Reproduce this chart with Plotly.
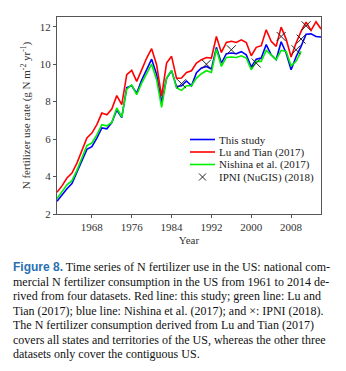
import plotly.graph_objects as go

years = list(range(1961, 2015))
this_study = [2.68, 3.03, 3.35, 3.62, 4.2, 4.85, 5.45, 5.6, 6.05, 6.6,
              6.55, 6.88, 7.55, 7.15, 8.75, 8.85, 8.45, 9.15, 9.75, 10.27,
              9.45, 7.95, 9.25, 9.65, 8.8, 8.85, 9.1, 8.85, 9.55, 9.8,
              9.88, 9.74, 10.9, 10.05, 10.56, 10.6, 10.56, 10.67, 10.5, 9.85,
              10.27, 10.33, 11.05, 10.5, 10.24, 11.2, 10.6, 9.7, 10.4, 10.95,
              11.6, 11.62, 11.48, 11.45]
lu_tian = [3.16, 3.5, 3.92, 4.19, 4.72, 5.43, 6.06, 6.32, 6.77, 7.39,
           7.3, 7.6, 8.32, 7.84, 9.44, 9.67, 9.08, 9.7, 10.33, 10.83,
           9.97, 8.28, 10.06, 10.42, 9.24, 9.26, 9.56, 9.65, 10.06, 10.24,
           10.36, 10.33, 11.48, 10.63, 11.16, 11.22, 11.16, 11.3, 11.16, 10.45,
           10.9, 10.99, 11.84, 11.22, 10.95, 11.98, 11.34, 10.38, 11.13, 11.75,
           12.25, 11.8, 12.27, 11.88]
nishina_years = list(range(1961, 2011))
nishina = [2.82, 3.2, 3.56, 3.78, 4.33, 4.99, 5.65, 5.79, 6.23, 6.77,
           6.71, 6.89, 7.66, 7.18, 8.67, 8.89, 8.37, 8.99, 9.49, 10.0,
           9.17, 7.69, 9.26, 9.67, 8.73, 8.6, 8.85, 8.85, 9.26, 9.49,
           9.65, 9.56, 10.81, 9.88, 10.36, 10.38, 10.36, 10.45, 10.33, 9.7,
           10.15, 10.15, 10.74, 10.5, 10.24, 10.74, 10.68, 9.91, 10.15, 10.68]
ipni_years = [1986, 1991, 1996, 2001, 2006, 2009, 2010, 2011]
ipni = [8.96, 10.0, 10.77, 10.06, 11.48, 10.77, 11.34, 12.05]

xticks = [1968, 1976, 1984, 1992, 2000, 2008]
yticks = [2, 4, 6, 8, 10, 12]

series_names = ["This study", "Lu and Tian (2017)", "Nishina et al. (2017)", "IPNI (NuGIS) (2018)"]
series_colors = ["#0000ff", "#ff0000", "#00ee00", "#222222"]

caption_lines = [
    "<b><span style='font-family:Liberation Sans;color:#2a6fb0'>Figure 8.</span></b> Time series of N fertilizer use in the US: national com-",
    "mercial N fertilizer consumption in the US from 1961 to 2014 de-",
    "rived from four datasets. Red line: this study; green line: Lu and",
    "Tian (2017); blue line: Nishina et al. (2017); and \u00d7: IPNI (2018).",
    "The N fertilizer consumption derived from Lu and Tian (2017)",
    "covers all states and territories of the US, whereas the other three",
    "datasets only cover the contiguous US.",
]

fig = go.Figure()
fig.add_trace(go.Scatter(x=years, y=this_study, mode="lines", name=series_names[0],
                         line=dict(color=series_colors[0], width=1.6)))
fig.add_trace(go.Scatter(x=years, y=lu_tian, mode="lines", name=series_names[1],
                         line=dict(color=series_colors[1], width=1.6)))
fig.add_trace(go.Scatter(x=nishina_years, y=nishina, mode="lines", name=series_names[2],
                         line=dict(color=series_colors[2], width=1.6)))
fig.add_trace(go.Scatter(x=ipni_years, y=ipni, mode="markers", name=series_names[3],
                         marker=dict(symbol="x-thin-open", size=9, color=series_colors[3],
                                     line=dict(width=1, color=series_colors[3]))))

axis_common = dict(showgrid=False, zeroline=False, showline=True, linecolor="#555555",
                   linewidth=1, mirror=True, ticks="outside", ticklen=3,
                   tickcolor="#555555",
                   tickfont=dict(family="Liberation Serif", size=11, color="#333333"))

fig.update_xaxes(range=[1961, 2014], tickvals=xticks, **axis_common,
                 title=dict(text="Year", font=dict(family="Liberation Serif", size=11, color="#333333"),
                            standoff=4))
fig.update_yaxes(range=[2, 12.52], tickvals=yticks, **axis_common,
                 title=dict(text="N fertilizer use rate (g N m<sup>-2</sup> yr<sup>-1</sup>)",
                            font=dict(family="Liberation Serif", size=11, color="#333333"),
                            standoff=6))

# plot-area geometry (px) for a hand-drawn legend
L, T, W, H = 57, 17, 264, 197
def px2x(p):
    return (p - L) / W
def px2y(p):
    return (T + H - p) / H

annotations = []
shapes = []
leg_x0, leg_x1, leg_text = 190, 215, 217
leg_rows = [139.5, 152, 164.5, 177]
for i, name in enumerate(series_names):
    yy = px2y(leg_rows[i])
    if i < 3:
        shapes.append(dict(type="line", xref="paper", yref="paper",
                           x0=px2x(leg_x0), x1=px2x(leg_x1), y0=yy, y1=yy,
                           line=dict(color=series_colors[i], width=1.6)))
    else:
        cx, d = 202.5, 3.5
        for sgn in (1, -1):
            shapes.append(dict(type="line", xref="paper", yref="paper",
                               x0=px2x(cx - d), x1=px2x(cx + d),
                               y0=px2y(leg_rows[i] - sgn * d), y1=px2y(leg_rows[i] + sgn * d),
                               line=dict(color=series_colors[i], width=1)))
    annotations.append(dict(text=name, xref="paper", yref="paper", x=px2x(leg_text),
                            xanchor="left", y=yy, yanchor="middle", showarrow=False,
                            font=dict(family="Liberation Serif", size=11, color="#222222")))

for i, line in enumerate(caption_lines):
    annotations.append(dict(text=line, xref="paper", yref="paper", x=-0.175,
                            xanchor="left", y=-0.27 - i * 0.0736, yanchor="middle",
                            showarrow=False, align="left",
                            font=dict(family="Liberation Serif", size=12, color="#111111")))

fig.update_layout(
    width=346, height=371,
    margin=dict(l=L, r=346 - L - W, t=T, b=371 - T - H),
    paper_bgcolor="white", plot_bgcolor="white",
    showlegend=False,
    annotations=annotations,
    shapes=shapes,
)

fig.write_html("out.html")
